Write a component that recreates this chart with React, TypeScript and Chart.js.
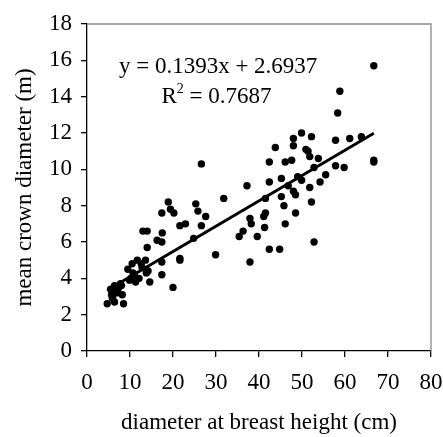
import React, { useEffect, useRef } from "react";
import { Chart, registerables } from "chart.js";

Chart.register(...registerables);

// diameter at breast height (cm)
const dbh = [
  4.7, 8.5, 5.5, 6.4, 5.7, 6.4, 7.2, 8.0, 8.2, 7.4,
  6.0, 6.8, 5.9, 7.8, 9.5, 9.9, 10.5, 10.7, 11.3, 11.7,
  12.1, 12.6, 13.0, 14.0, 14.0, 13.6, 13.8, 14.2, 14.6, 12.8,
  11.0, 10.2, 16.3, 17.4, 17.5, 17.4, 17.4, 17.4, 18.9, 19.4,
  20.2, 20.0, 21.6, 21.6, 21.6, 22.9, 24.8, 25.3, 25.8, 26.6,
  26.6, 27.6, 29.9, 31.8, 35.4, 36.3, 37.2, 37.9, 37.9, 38.2,
  39.6, 41.3, 41.5, 41.5, 41.1, 42.4, 42.4, 42.4, 43.8, 44.8,
  45.2, 45.2, 45.8, 46.1, 46.1, 46.8, 47.6, 48.0, 48.0, 48.0,
  48.5, 48.5, 49.0, 49.9, 49.9, 50.9, 51.4, 51.8, 51.8, 52.2,
  52.2, 52.8, 52.8, 53.8, 54.2, 55.5, 57.8, 57.8, 58.3, 58.8,
  59.8, 61.1, 63.8, 66.7, 66.7, 66.7,
];

// mean crown diameter (m)
const crown = [
  2.6, 2.6, 3.4, 3.6, 3.1, 2.7, 3.2, 3.6, 3.1, 3.5,
  3.0, 3.4, 2.9, 3.7, 4.5, 3.9, 4.8, 4.3, 3.8, 5.0,
  4.0, 4.8, 6.6, 6.6, 5.7, 5.0, 4.3, 4.4, 3.8, 4.6,
  4.2, 4.0, 6.1, 7.6, 6.5, 6.0, 4.9, 4.2, 8.2, 7.8,
  7.6, 3.5, 6.9, 5.1, 5.0, 7.0, 6.2, 8.1, 7.7, 10.3,
  6.9, 7.4, 5.3, 8.4, 6.3, 6.6, 9.1, 4.9, 7.3, 7.0,
  6.3, 6.8, 7.6, 8.4, 7.4, 9.3, 10.4, 5.6, 11.2, 5.6,
  9.5, 8.5, 8.0, 7.0, 10.4, 9.1, 10.5, 11.7, 11.3, 8.8,
  8.6, 7.6, 9.6, 12.0, 9.4, 11.1, 11.0, 10.7, 9.0, 11.8,
  8.2, 6.0, 10.1, 10.6, 9.3, 9.7, 11.6, 10.2, 13.1, 14.3,
  10.1, 11.7, 11.8, 15.7, 10.5, 10.4,
];

// trendline
const slope = 0.1393;
const intercept = 2.6937;
const equationText = "y = 0.1393x + 2.6937";
const r2Text = " = 0.7687";

// axes
const xRange = [0, 80];
const xStep = 10;
const yRange = [0, 18];
const yStep = 2;
const xTitle = "diameter at breast height (cm)";
const yTitle = "mean crown diameter (m)";

const FONT = "'Liberation Serif', 'Times New Roman', Times, serif";
const FS = 23;

export default function App() {
  const ref = useRef<HTMLCanvasElement>(null);

  useEffect(() => {
    document.body.style.margin = "0";
    const canvas = ref.current;
    if (!canvas) return;
    const lo = Math.min(...dbh);
    const hi = Math.max(...dbh);

    const annot = {
      id: "annot",
      afterDraw(chart: any) {
        const { ctx, chartArea: a, scales } = chart;
        const x = scales.x;
        const y = scales.y;
        ctx.save();
        ctx.strokeStyle = "#8a8a8a";
        ctx.lineWidth = 1.3;
        ctx.beginPath();
        ctx.moveTo(a.left, a.top);
        ctx.lineTo(a.right, a.top);
        ctx.lineTo(a.right, a.bottom);
        ctx.stroke();

        ctx.fillStyle = "#000";
        ctx.font = `${FS}px ${FONT}`;
        ctx.textBaseline = "middle";
        ctx.textAlign = "center";
        ctx.fillText(equationText, x.getPixelForValue(30.5), y.getPixelForValue(15.65));

        // R² line
        const cx = x.getPixelForValue(30.1);
        const cy = y.getPixelForValue(14.0);
        ctx.textAlign = "left";
        const wR = ctx.measureText("R").width;
        const wRest = ctx.measureText(r2Text).width;
        ctx.font = `${Math.round(FS * 0.62)}px ${FONT}`;
        const w2 = ctx.measureText("2").width;
        const total = wR + w2 + wRest;
        let sx = cx - total / 2;
        ctx.font = `${FS}px ${FONT}`;
        ctx.fillText("R", sx, cy);
        sx += wR;
        ctx.font = `${Math.round(FS * 0.62)}px ${FONT}`;
        ctx.fillText("2", sx, cy - 7);
        sx += w2;
        ctx.font = `${FS}px ${FONT}`;
        ctx.fillText(r2Text, sx, cy);
        ctx.restore();
      },
    };

    const chart = new Chart(canvas, {
      type: "scatter",
      data: {
        datasets: [
          {
            type: "line",
            data: [
              { x: lo, y: slope * lo + intercept },
              { x: hi, y: slope * hi + intercept },
            ],
            borderColor: "#000",
            borderWidth: 3,
            pointRadius: 0,
            fill: false,
          } as any,
          {
            data: dbh.map((v, i) => ({ x: v, y: crown[i] })),
            backgroundColor: "#000",
            borderColor: "#000",
            borderWidth: 0,
            pointRadius: 3.7,
          },
        ],
      },
      options: {
        animation: false,
        responsive: false,
        devicePixelRatio: 1,
        layout: { padding: { top: 24, right: 0, left: 0, bottom: 0 } },
        plugins: { legend: { display: false }, tooltip: { enabled: false } },
        scales: {
          x: {
            type: "linear",
            min: xRange[0],
            max: xRange[1],
            ticks: {
              stepSize: xStep,
              color: "#000",
              font: { family: FONT, size: FS },
              padding: 12,
              maxRotation: 0,
            },
            grid: { drawOnChartArea: false, drawTicks: true, tickLength: 6, color: "#000", lineWidth: 1.3 },
            border: { display: true, color: "#000", width: 1.3 },
            title: {
              display: true,
              text: xTitle,
              color: "#000",
              font: { family: FONT, size: FS },
              padding: { top: 0, bottom: 0 },
            },
            afterFit(s: any) {
              s.height = 86;
              s.paddingRight = 12;
              s.paddingLeft = 0;
            },
          },
          y: {
            type: "linear",
            min: yRange[0],
            max: yRange[1],
            ticks: {
              stepSize: yStep,
              color: "#000",
              font: { family: FONT, size: FS },
              padding: 9,
            },
            grid: { drawOnChartArea: false, drawTicks: true, tickLength: 6, color: "#000", lineWidth: 1.3 },
            border: { display: true, color: "#000", width: 1.3 },
            title: {
              display: true,
              text: yTitle,
              color: "#000",
              font: { family: FONT, size: FS },
              padding: { top: 11, bottom: 0 },
            },
            afterFit(s: any) {
              s.width = 87;
            },
          },
        },
      } as any,
      plugins: [annot],
    });
    return () => chart.destroy();
  }, []);

  return (
    <div style={{ width: 443, height: 437 }}>
      <canvas ref={ref} width={443} height={437} />
    </div>
  );
}
